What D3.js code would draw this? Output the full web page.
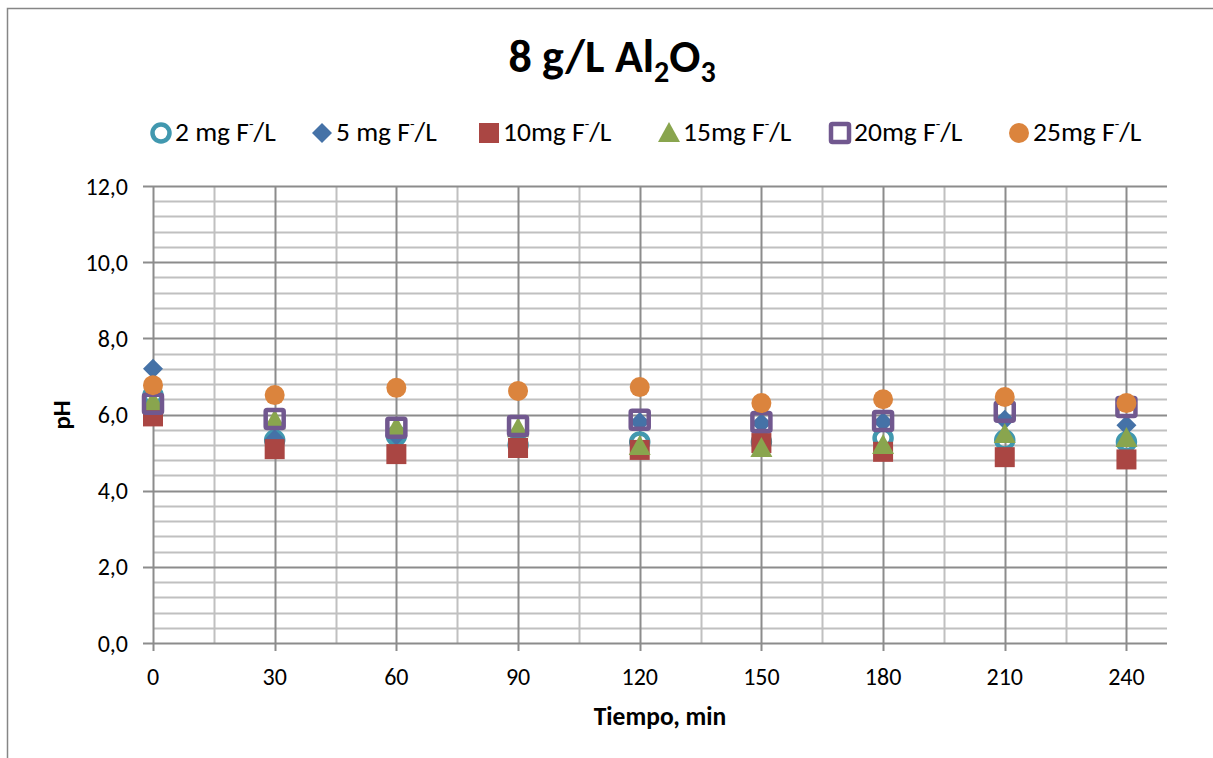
<!DOCTYPE html>
<html>
<head>
<meta charset="utf-8">
<script src="https://cdn.jsdelivr.net/npm/d3@7"></script>
<style>
  body { margin: 0; background: #fff; }
  text { font-family: Carlito, Lato, "Open Sans", sans-serif; fill: #000; }
</style>
</head>
<body>
<div id="chart"></div>
<script>
const width = 1213;
const height = 758;

// time (min)
const times = [0, 30, 60, 90, 120, 150, 180, 210, 240];

// pH per fluoride concentration
const ph2 = [6.5, 5.33, 5.44, 5.2, 5.28, 5.28, 5.38, 5.33, 5.28];
const ph5 = [7.2, 5.35, 5.45, 5.3, 5.8, 5.77, 5.8, 5.86, 5.72];
const ph10 = [5.95, 5.09, 4.96, 5.12, 5.07, 5.25, 5.02, 4.88, 4.82];
const ph15 = [6.35, 5.85, 5.67, 5.64, 5.17, 5.12, 5.2, 5.49, 5.38];
const ph20 = [6.28, 5.88, 5.65, 5.7, 5.86, 5.8, 5.83, 6.07, 6.2];
const ph25 = [6.77, 6.51, 6.7, 6.62, 6.72, 6.3, 6.4, 6.46, 6.3];

const seriesNames = ["2 mg F", "5 mg F", "10mg F", "15mg F", "20mg F", "25mg F"];
const yTicks = [0, 2, 4, 6, 8, 10, 12];

const series = [
    { name: seriesNames[0], values: ph2, symbol: "ring", color: "#4198AF" },
    { name: seriesNames[1], values: ph5, symbol: "diamond", color: "#4572A7" },
    { name: seriesNames[2], values: ph10, symbol: "square", color: "#AA4643" },
    { name: seriesNames[3], values: ph15, symbol: "triangle", color: "#89A54E" },
    { name: seriesNames[4], values: ph20, symbol: "openSquare", color: "#71588F" },
    { name: seriesNames[5], values: ph25, symbol: "circle", color: "#DB843D" }
];

const margin = { left: 153, right: 1167, top: 186, bottom: 643 };

const svg = d3.select("#chart")
    .append("svg")
    .attr("width", width)
    .attr("height", height);

// chart area border
svg.append("rect")
    .attr("x", 7.5).attr("y", 8.5)
    .attr("width", 1230).attr("height", 800)
    .attr("fill", "#fff")
    .attr("stroke", "#868686")
    .attr("stroke-width", 1.5);

const x = d3.scaleLinear().domain([0, 250]).range([margin.left, margin.right]);
const y = d3.scaleLinear().domain([0, 12]).range([margin.bottom, margin.top]);

const grid = svg.append("g");

// minor horizontal grid (every 0.4)
const yMinor = d3.range(0, 12.001, 0.4).filter(v => Math.abs(v / 2 - Math.round(v / 2)) > 0.01);
grid.selectAll(".ymin")
    .data(yMinor)
    .enter().append("line")
    .attr("x1", margin.left).attr("x2", margin.right)
    .attr("y1", d => Math.round(y(d)) + 0.5).attr("y2", d => Math.round(y(d)) + 0.5)
    .attr("stroke", "#c0c0c0").attr("stroke-width", 2);

// minor vertical grid (every 15 between majors)
const xMinor = d3.range(15, 250, 30);
grid.selectAll(".xmin")
    .data(xMinor)
    .enter().append("line")
    .attr("x1", d => Math.round(x(d)) + 0.5).attr("x2", d => Math.round(x(d)) + 0.5)
    .attr("y1", margin.top).attr("y2", margin.bottom)
    .attr("stroke", "#c0c0c0").attr("stroke-width", 2);

// major horizontal grid
grid.selectAll(".ymaj")
    .data(yTicks)
    .enter().append("line")
    .attr("x1", margin.left - 10).attr("x2", margin.right)
    .attr("y1", d => Math.round(y(d)) + 0.5).attr("y2", d => Math.round(y(d)) + 0.5)
    .attr("stroke", "#8c8c8c").attr("stroke-width", 2);

// major vertical grid
grid.selectAll(".xmaj")
    .data(times)
    .enter().append("line")
    .attr("x1", d => Math.round(x(d)) + 0.5).attr("x2", d => Math.round(x(d)) + 0.5)
    .attr("y1", margin.top).attr("y2", margin.bottom + 8)
    .attr("stroke", "#8c8c8c").attr("stroke-width", 2);

// axis labels
svg.append("g").selectAll("text")
    .data(yTicks)
    .enter().append("text")
    .attr("x", 128)
    .attr("y", d => y(d))
    .attr("dy", "0.36em")
    .attr("text-anchor", "end")
    .attr("font-size", "24px")
    .text(d => d3.format(".1f")(d).replace(".", ","));

svg.append("g").selectAll("text")
    .data(times)
    .enter().append("text")
    .attr("x", d => x(d))
    .attr("y", 685)
    .attr("text-anchor", "middle")
    .attr("font-size", "24px")
    .text(d => d);

svg.append("text")
    .attr("x", 660).attr("y", 725)
    .attr("text-anchor", "middle")
    .attr("font-size", "25.5px")
    .attr("font-weight", "bold")
    .text("Tiempo, min");

svg.append("text")
    .attr("transform", "translate(70,415) rotate(-90)")
    .attr("text-anchor", "middle")
    .attr("font-size", "25px")
    .attr("font-weight", "bold")
    .text("pH");

// title
const title = svg.append("text")
    .attr("x", 612).attr("y", 72)
    .attr("text-anchor", "middle")
    .attr("font-size", "46px")
    .attr("font-weight", "bold");
title.append("tspan").text("8 g/L Al");
title.append("tspan").attr("font-size", "30px").attr("dy", 10).text("2");
title.append("tspan").attr("dy", -10).text("O");
title.append("tspan").attr("font-size", "30px").attr("dy", 10).text("3");

// marker drawing
function drawMarker(g, symbol, color, cx, cy) {
    if (symbol === "ring") {
        g.append("circle").attr("cx", cx).attr("cy", cy).attr("r", 8.5)
            .attr("fill", "none").attr("stroke", color).attr("stroke-width", 4.5);
    } else if (symbol === "circle") {
        g.append("circle").attr("cx", cx).attr("cy", cy).attr("r", 10)
            .attr("fill", color);
    } else if (symbol === "diamond") {
        g.append("path")
            .attr("d", `M${cx},${cy - 10}L${cx + 10},${cy}L${cx},${cy + 10}L${cx - 10},${cy}Z`)
            .attr("fill", color);
    } else if (symbol === "square") {
        g.append("rect").attr("x", cx - 10).attr("y", cy - 10)
            .attr("width", 20).attr("height", 20).attr("fill", color);
    } else if (symbol === "openSquare") {
        g.append("rect").attr("x", cx - 9).attr("y", cy - 9)
            .attr("width", 18).attr("height", 18).attr("rx", 1.5)
            .attr("fill", "none").attr("stroke", color).attr("stroke-width", 4.5);
    } else if (symbol === "triangle") {
        g.append("path")
            .attr("d", `M${cx},${cy - 11}L${cx + 11},${cy + 9}L${cx - 11},${cy + 9}Z`)
            .attr("fill", color);
    }
}

const marks = svg.append("g");
series.forEach(s => {
    const g = marks.append("g");
    s.values.forEach((v, i) => drawMarker(g, s.symbol, s.color, x(times[i]), y(v)));
});

// legend
const legendX = [161, 322, 489, 669, 840, 1019];
const legend = svg.append("g");
series.forEach((s, i) => {
    const g = legend.append("g");
    drawMarker(g, s.symbol, s.color, legendX[i], 133);
    const t = g.append("text")
        .attr("x", legendX[i] + 14)
        .attr("y", 141)
        .attr("font-size", "27.5px");
    t.append("tspan").text(s.name);
    t.append("tspan").attr("font-size", "15px").attr("dy", -12).text("-");
    t.append("tspan").attr("dy", 12).text("/L");
});
</script>
</body>
</html>
